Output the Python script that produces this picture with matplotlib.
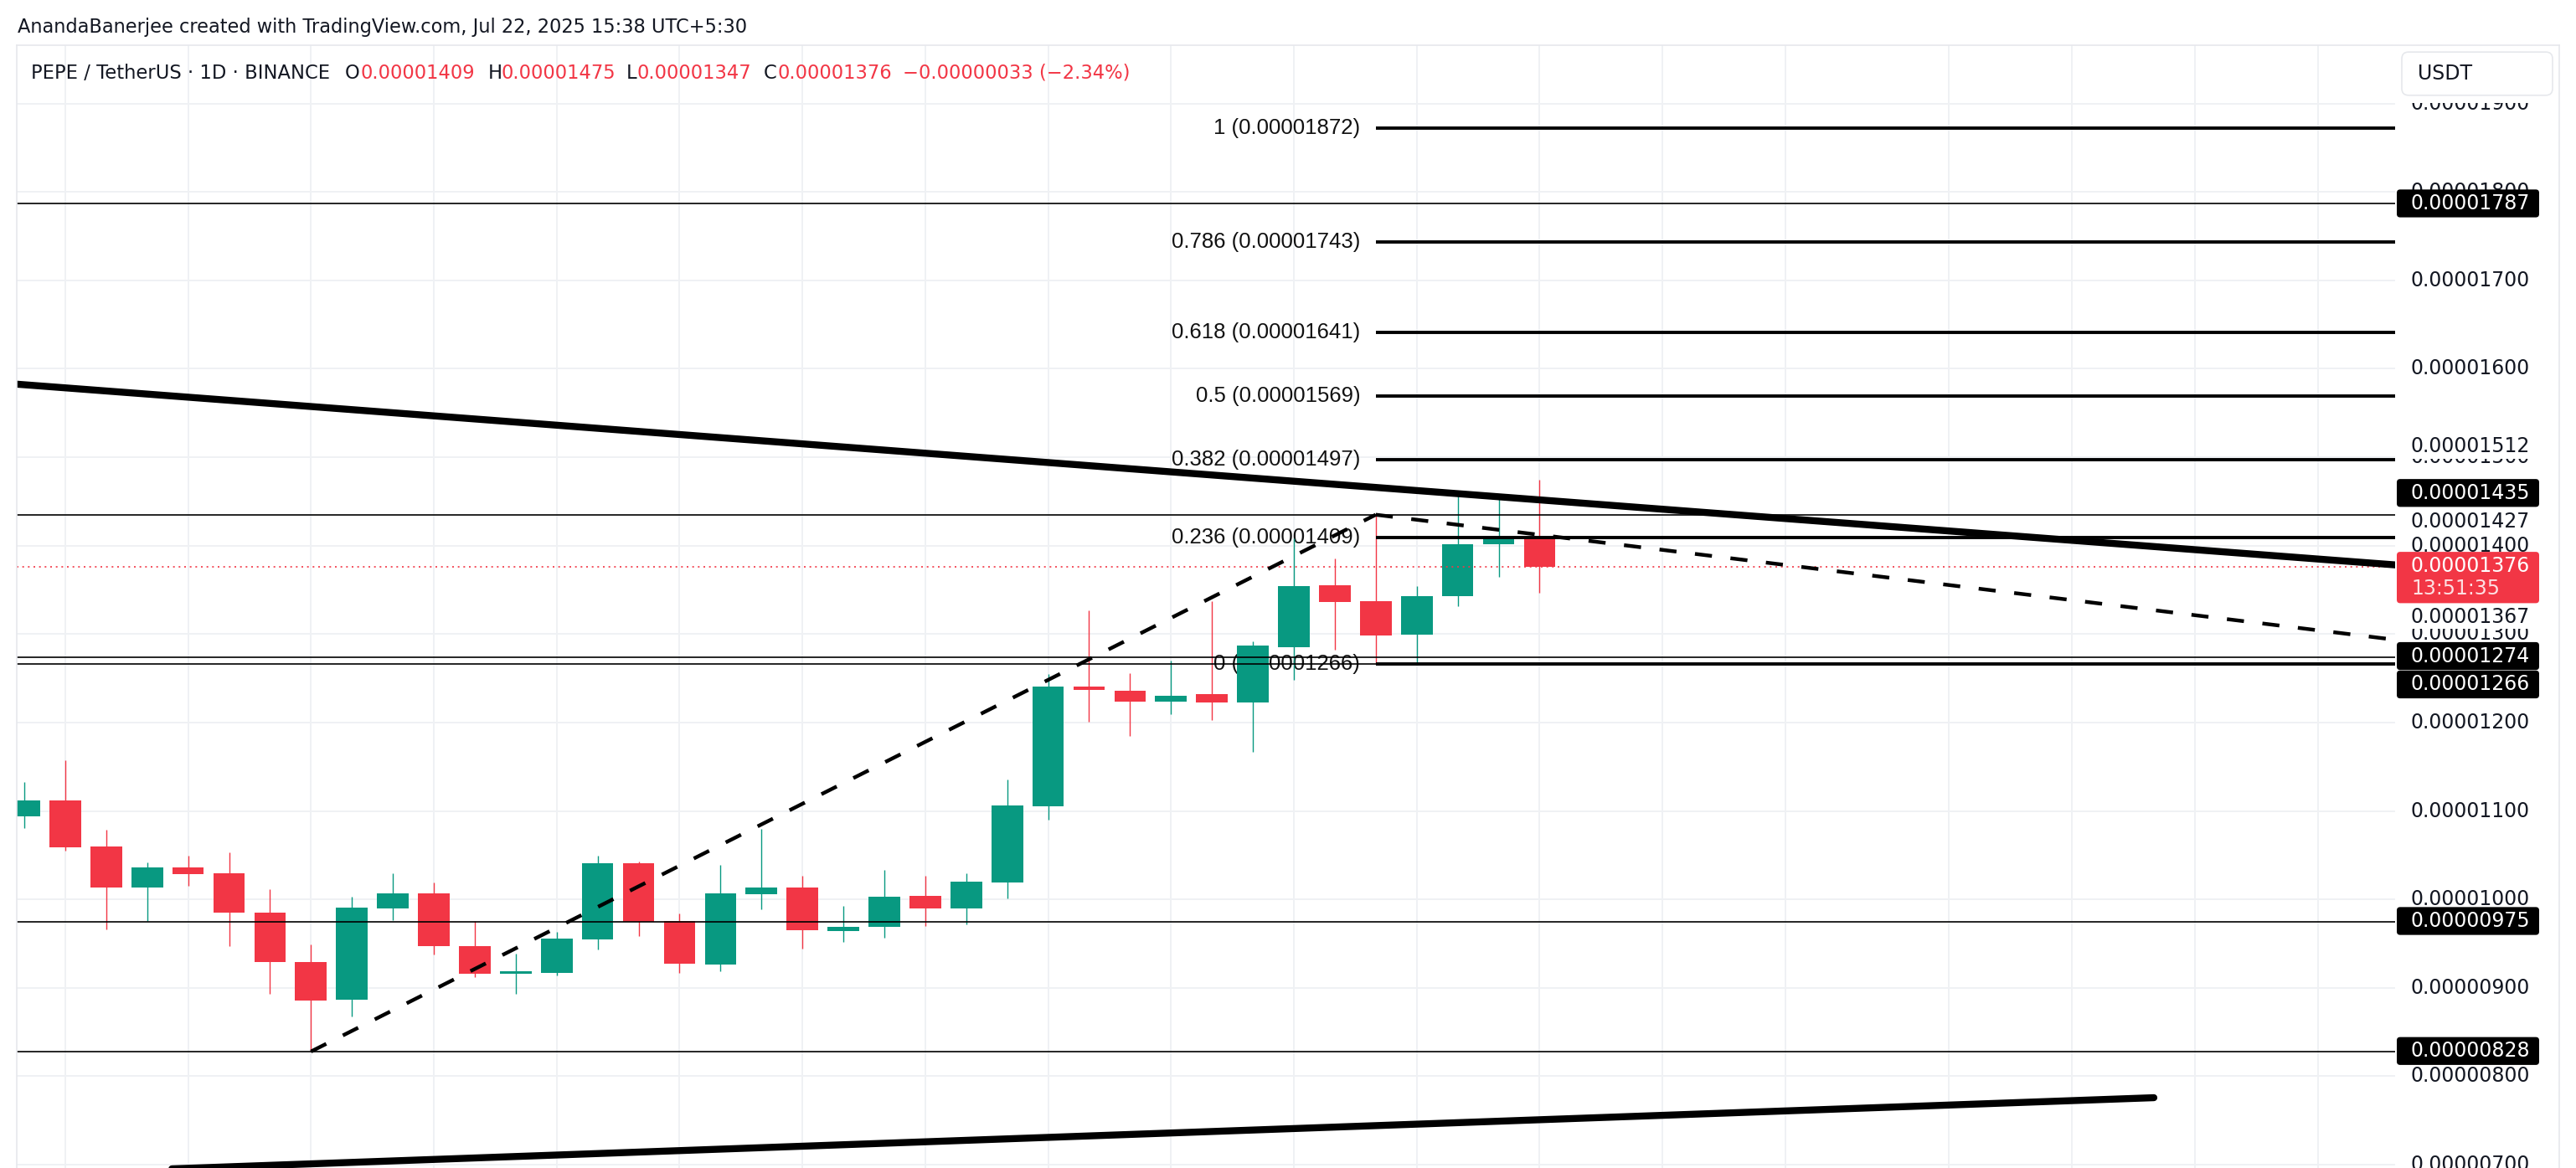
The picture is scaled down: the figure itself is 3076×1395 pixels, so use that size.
import numpy as np
import pandas as pd
import matplotlib
matplotlib.use('Agg')
import matplotlib.pyplot as plt
from matplotlib.patches import FancyBboxPatch, Rectangle
from matplotlib.lines import Line2D

W, H = 3076, 1395

# daily candles, prices in units of 1e-8 USDT
opens  = [1094, 1112, 1060, 1013, 1036, 1030, 985, 929, 887, 990, 1007, 947, 916, 917, 955, 1041, 976, 926, 1006,
          1013, 964, 969, 1004, 990, 1019, 1105, 1241, 1236, 1224, 1232, 1223, 1285, 1355, 1337, 1299, 1343, 1402, 1409]
highs  = [1133, 1157, 1079, 1042, 1049, 1053, 1012, 949, 1003, 1030, 1019, 976, 939, 963, 1049, 1043, 984, 1039, 1080,
          1027, 993, 1033, 1027, 1030, 1136, 1255, 1327, 1256, 1270, 1337, 1292, 1408, 1386, 1435, 1354, 1460, 1454, 1475]
lows   = [1081, 1055, 966, 976, 1015, 947, 893, 828, 868, 977, 938, 912, 893, 914, 943, 959, 917, 919, 989,
          944, 952, 957, 970, 972, 1001, 1090, 1201, 1185, 1209, 1203, 1167, 1248, 1282, 1266, 1265, 1332, 1365, 1347]
closes = [1112, 1059, 1013, 1036, 1029, 985, 929, 886, 991, 1007, 947, 916, 919, 956, 1041, 975, 927, 1007, 1013,
          965, 969, 1003, 990, 1020, 1106, 1241, 1237, 1224, 1230, 1223, 1287, 1354, 1336, 1298, 1343, 1402, 1409, 1376]
first_day = '2025-06-15'
last_price = 1376

# drawings
hlines = [1787, 1435, 1274, 1266, 975, 828]
fib_ratio = ['0', '0.236', '0.382', '0.5', '0.618', '0.786', '1']
fib_price = [1266, 1409, 1497, 1569, 1641, 1743, 1872]
fib_start = 33
trend_up_x, trend_up_y = [-1, 58], [1585.5, 1377.9]
trend_lo_x, trend_lo_y = [-1, 52], [687.7, 775.8]
dash1_x, dash1_y = [7, 33], [828, 1435]
dash2_x, dash2_y = [33, 58], [1435, 1293]

axis_ticks = list(range(700, 2000, 100))

GREEN, RED, TXT = '#089981', '#F23645', '#131722'
GRID = '#eff1f4'

fig = plt.figure(figsize=(W / 100, H / 100), dpi=100)
fig.patch.set_facecolor('white')
ax = fig.add_axes([20 / W, 0, 2840 / W, 1341 / H])
ax.set_xlim(-0.184, 57.89)
ax.set_ylim(696.3, 1965.9)
ax.set_axis_off()

# grid
dates = pd.date_range(first_day, periods=60, freq='D')
for i, d in enumerate(dates):
    if d.day <= 28 and (d.day - 1) % 3 == 0:
        ax.axvline(i, color=GRID, lw=1.4, zorder=0)
for v in axis_ticks:
    ax.axhline(v, color=GRID, lw=1.4, zorder=0)

# fib retracement
for r, p in zip(fib_ratio, fib_price):
    ax.text(32.62, p, f'{r} ({p / 1e8:.8f})', ha='right', va='center', fontsize=18.5,
            family=['Liberation Sans', 'DejaVu Sans'], color='#111111', zorder=1)
    ax.hlines(p, fib_start, 60, color='black', lw=2.8, zorder=3)

# candles
x = np.arange(len(opens))
o, hi, lo, c = map(np.array, (opens, highs, lows, closes))
cols = np.where(c >= o, GREEN, RED)
ax.vlines(x, lo, hi, colors=cols, lw=1.0, zorder=2)
ax.bar(x, np.maximum(np.abs(c - o), 1.5), bottom=np.minimum(o, c), width=0.77, color=cols, lw=0, zorder=2)

for v in hlines:
    ax.axhline(v, color='black', lw=1.2, zorder=3)
ax.axhline(last_price, color=RED, lw=1.2, ls=(0, (1.2, 2.8)), zorder=3)

ax.plot(dash1_x, dash1_y, color='black', lw=3.2, dashes=(4.6, 5), zorder=4)
ax.plot(dash2_x, dash2_y, color='black', lw=3.2, dashes=(4.6, 5), zorder=4)
ax.plot(trend_up_x, trend_up_y, color='black', lw=6.0, solid_capstyle='round', zorder=4)
ax.plot(trend_lo_x, trend_lo_y, color='black', lw=6.0, solid_capstyle='round', zorder=4)

# price scale
ax2 = fig.add_axes([2860 / W, 0, 196 / W, 1341 / H])
ax2.set_xlim(0, 196)
ax2.set_ylim(696.3, 1965.9)
ax2.set_axis_off()
asp = 1 / 1.0562

for v in axis_ticks:
    ax2.text(19, v, f'{v / 1e8:.8f}', ha='left', va='center', fontsize=17, color=TXT, zorder=2)


def plain(y, v):
    ax2.text(19, y, f'{v / 1e8:.8f}', ha='left', va='center', fontsize=17, color=TXT, zorder=3,
             bbox=dict(fc='white', ec='none', pad=1.5))


def tag(y, v, fc, h=31.5):
    ax2.add_patch(FancyBboxPatch((2, y - h / 2), 170, h, boxstyle='round,pad=0,rounding_size=4',
                                 mutation_aspect=asp, fc=fc, ec='none', zorder=4))
    ax2.text(19, y, f'{v / 1e8:.8f}', ha='left', va='center', fontsize=17, color='white', zorder=5)


tag(1787, 1787, 'black')
plain(1512, 1512)
tag(1459.6, 1435, 'black')
plain(1427.5, 1427)
plain(1319.5, 1367)
tag(1275.2, 1274, 'black')
tag(1243.1, 1266, 'black')
tag(975.6, 975, 'black')
tag(828.6, 828, 'black')

# current price tag with countdown
ax2.add_patch(FancyBboxPatch((2, 1335), 170, 58, boxstyle='round,pad=0,rounding_size=4',
                             mutation_aspect=asp, fc=RED, ec='none', zorder=4))
ax2.text(19, 1377, f'{last_price / 1e8:.8f}', ha='left', va='center', fontsize=17, color='white', zorder=5)
ax2.text(19, 1351, '13:51:35', ha='left', va='center', fontsize=17, color='#fddfe2', zorder=5)

# currency box
ax2.add_patch(Rectangle((0, 1900.5), 196, 66, fc='white', ec='none', zorder=4))
ax2.add_patch(FancyBboxPatch((8, 1909.3), 180, 48.9, boxstyle='round,pad=0,rounding_size=8',
                             mutation_aspect=asp, fc='white', ec='#e6e8ec', lw=1.2, zorder=5))
ax2.text(27, 1933.7, 'USDT', ha='left', va='center', fontsize=17, color=TXT, zorder=6)

# frame
BORDER = '#e6e8ec'
fig.add_artist(Line2D([20 / W, 3056 / W], [1 - 53.5 / H] * 2, color=BORDER, lw=1.2))
fig.add_artist(Line2D([20 / W] * 2, [0, 1 - 53.5 / H], color=BORDER, lw=1.2))
fig.add_artist(Line2D([3056 / W] * 2, [0, 1 - 53.5 / H], color=BORDER, lw=1.2))

# header texts
wm = fig.text(21 / W, 1 - 33 / H, 'AnandaBanerjee created with TradingView.com, Jul 22, 2025 15:38 UTC+5:30',
              ha='left', va='center', fontsize=16, color=TXT)
r = fig.canvas.get_renderer()
wm.set_fontsize(16 * 876 / wm.get_window_extent(r).width)

hy = 1 - 87 / H
fig.text(37 / W, hy, 'PEPE / TetherUS · 1D · BINANCE', ha='left', va='center', fontsize=16.3, color=TXT)
ohlc = [('O', 412, 430, opens[-1]), ('H', 583, 599, highs[-1]), ('L', 748, 761, lows[-1]), ('C', 912, 929, closes[-1])]
for lab, xl, xv, v in ohlc:
    fig.text(xl / W, hy, lab, ha='left', va='center', fontsize=16.3, color=TXT)
    fig.text(xv / W, hy, f'{v / 1e8:.8f}', ha='left', va='center', fontsize=16.3, color=RED)
chg = closes[-1] - opens[-1]
fig.text(1078 / W, hy, f'\u2212{abs(chg) / 1e8:.8f} (\u2212{abs(chg) / opens[-1] * 100:.2f}%)',
         ha='left', va='center', fontsize=16.3, color=RED)

fig.savefig('out.png', dpi=100)
